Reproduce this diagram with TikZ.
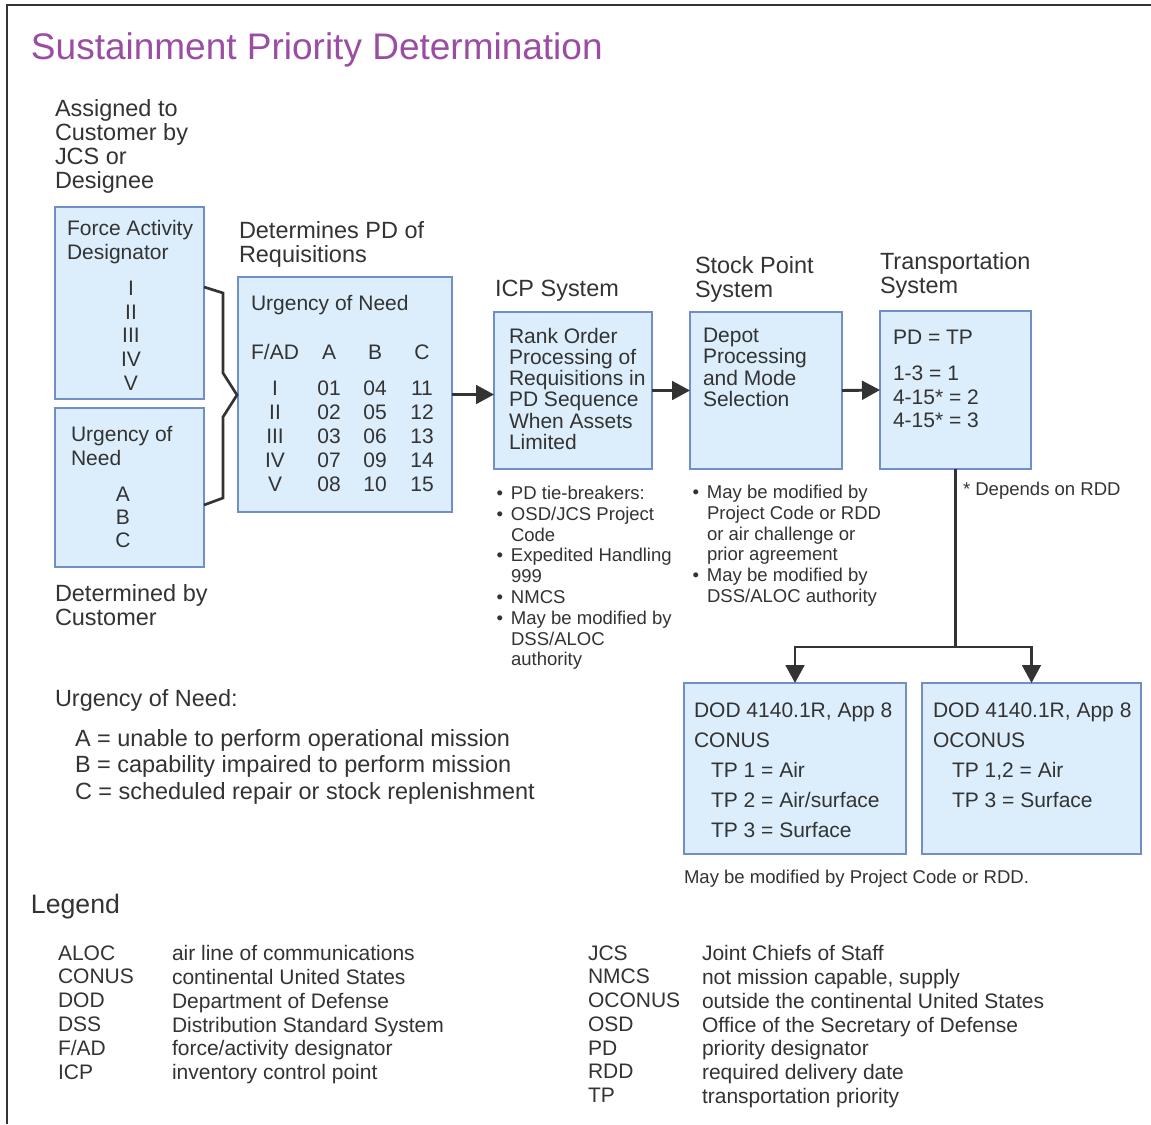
\documentclass[tikz,border=0pt]{standalone}
\usepackage{fontspec}
\setmainfont{Liberation Sans}
\usetikzlibrary{arrows.meta,fit}
\definecolor{ink}{RGB}{51,51,51}
\definecolor{boxfill}{RGB}{220,238,251}
\definecolor{boxline}{RGB}{112,142,200}
\definecolor{titlecol}{RGB}{155,77,163}
\newcommand{\itembul}{\llap{\textbullet\hspace{6pt}}}

\begin{document}
\begin{tikzpicture}[x=0.75pt,y=0.75pt,yscale=-1,
  every node/.style={inner sep=0pt,outer sep=0pt,text=ink},
  blockbox/.style={draw=boxline,fill=boxfill,line width=1pt},
  head/.style={anchor=north west,align=left,font=\fontsize{17.6}{18}\selectfont},
  boxtext/.style={anchor=north west,align=left,font=\fontsize{15.75}{18}\selectfont},
  cell/.style={anchor=base,font=\fontsize{15.75}{18}\selectfont},
  small/.style={anchor=north west,align=left,font=\fontsize{13.9}{15.6}\selectfont},
  legtext/.style={anchor=north west,font=\fontsize{15.75}{17.8}\selectfont},
  conn/.style={draw=ink,line width=2.2pt},
  arr/.style={conn,-{Triangle[length=13.5pt,width=14pt]}}]
%set page to 1151 x 1124
\path[fill=white] (0,0) rectangle (1151,1124);
\useasboundingbox (0,0) rectangle (1151,1124);

%Frame
\draw[ink,line width=2.2pt] (7,1124) -- (7,5) -- (1151,5);

% Text Node
\node[anchor=north west,text=titlecol,font=\fontsize{27.75}{30}\selectfont] (title) at (31,33) {Sustainment Priority Determination};

%Shape: Rectangle
\node[blockbox,fit={(55,207) (204,399)}] (fad) {};
\node[blockbox,fit={(55,408) (204,567)}] (urg) {};
\node[blockbox,fit={(238,277) (452,512)}] (tab) {};
\node[blockbox,fit={(494,312) (652,469)}] (icp) {};
\node[blockbox,fit={(690,312) (842,469)}] (stock) {};
\node[blockbox,fit={(880,311) (1031,469)}] (trans) {};
\node[blockbox,fit={(684,683) (906,854)}] (conus) {};
\node[blockbox,fit={(922,683) (1141,854)}] (oconus) {};

% Text Node
\node[head] (assigned) at (55,99) {Assigned to\\Customer by\\JCS or\\Designee};
\node[boxtext] (fadtxt) at (67,220) {Force Activity\\Designator};
\node[boxtext,anchor=north,align=center,font=\fontsize{15.75}{17.8}\selectfont] (fadnum) at (131,281) {I\\II\\III\\IV\\V};
\node[boxtext] (urgtxt) at (71,426) {Urgency of\\Need};
\node[boxtext,anchor=north,align=center,font=\fontsize{15.75}{17.4}\selectfont] (urgabc) at (123,487) {A\\B\\C};
\node[head] (determines) at (239,221) {Determines PD of\\Requisitions};
\node[boxtext] (tabtitle) at (251,295) {Urgency of Need};

%Table
\node[cell] (h0) at (275,359) {F/AD};
\node[cell] (h1) at (329,359) {A};
\node[cell] (h2) at (375,359) {B};
\node[cell] (h3) at (422,359) {C};
\foreach \fa/\ca/\cb/\cc [count=\i from 0] in {I/01/04/11,II/02/05/12,III/03/06/13,IV/07/09/14,V/08/10/15}{
  \node[cell] (r\i-0) at (275,{395.7+24*\i}) {\fa};
  \node[cell] (r\i-1) at (329,{395.7+24*\i}) {\ca};
  \node[cell] (r\i-2) at (375,{395.7+24*\i}) {\cb};
  \node[cell] (r\i-3) at (422,{395.7+24*\i}) {\cc};
}

% Text Node
\node[head] (icphead) at (495,280) {ICP System};
\node[head] (stockhead) at (695,256) {Stock Point\\System};
\node[head] (transhead) at (880,252) {Transportation\\System};
\node[boxtext,font=\fontsize{15.75}{15.9}\selectfont] (icptxt) at (509,328) {Rank Order\\Processing of\\Requisitions in\\PD Sequence\\When Assets\\Limited};
\node[boxtext,font=\fontsize{15.75}{16}\selectfont] (stocktxt) at (703,328) {Depot\\Processing\\and Mode\\Selection};
\node[boxtext] (transtp) at (893,330) {PD = TP};
\node[boxtext,font=\fontsize{15.75}{17.5}\selectfont] (transtxt) at (893,366) {1-3 = 1\\4-15* = 2\\4-15* = 3};
\node[small] (depends) at (963,482) {* Depends on RDD};
\node[small] (icpnotes) at (511,486) {\itembul PD tie-breakers:\\\itembul OSD/JCS Project\\Code\\\itembul Expedited Handling\\999\\\itembul NMCS\\\itembul May be modified by\\DSS/ALOC\\authority};
\node[small] (stocknotes) at (707,485) {\itembul May be modified by\\Project Code or RDD\\or air challenge or\\prior agreement\\\itembul May be modified by\\DSS/ALOC authority};
\node[boxtext,font=\fontsize{15.75}{22.5}\selectfont] (conustxt) at (694,703) {DOD 4140.1R, App 8\\CONUS};
\node[boxtext,font=\fontsize{15.75}{22.5}\selectfont] (conustp) at (711,762) {TP 1 = Air\\TP 2 = Air/surface\\TP 3 = Surface};
\node[boxtext,font=\fontsize{15.75}{22.5}\selectfont] (oconustxt) at (933,703) {DOD 4140.1R, App 8\\OCONUS};
\node[boxtext,font=\fontsize{15.75}{22.5}\selectfont] (oconustp) at (952,762) {TP 1,2 = Air\\TP 3 = Surface};
\node[small] (maymod) at (684,870) {May be modified by Project Code or RDD.};
\node[head] (determined) at (55,584) {Determined by\\Customer};
\node[head] (urgneed) at (55,689) {Urgency of Need:};
\node[head,font=\fontsize{17.6}{20}\selectfont] (abclist) at (75,729) {A = unable to perform operational mission\\B = capability impaired to perform mission\\C = scheduled repair or stock replenishment};

%Brace
\draw[conn,line width=2pt] (204,287) -- (223,293) -- (223,373) -- (237,395) -- (223,417) -- (223,498) -- (204,505);

%Arrows
\draw[arr] (tab.east) -- (tab.east -| icp.west);
\draw[arr] (icp.east) -- (stock.west);
\draw[arr] (stock.east) -- (trans.west);
\coordinate (split) at (955.5,647);
\draw[conn] (trans.south) -- (split);
\draw[arr] (split) -| (conus.north);
\draw[arr] (split) -| (oconus.north);

%Legend
\node[anchor=north west,font=\fontsize{20}{22}\selectfont] (legend) at (31,894) {Legend};
\foreach \ab/\df [count=\i from 0] in {ALOC/air line of communications,CONUS/continental United States,DOD/Department of Defense,DSS/Distribution Standard System,F\slash AD/force\slash activity designator,ICP/inventory control point}{
  \node[legtext] (la\i) at (58,{945.5+23.8*\i}) {\ab};
  \node[legtext] (ld\i) at (172,{945.5+23.8*\i}) {\df};
}
\foreach \ab/\df [count=\i from 0] in {JCS/Joint Chiefs of Staff,NMCS/{not mission capable, supply},OCONUS/outside the continental United States,OSD/Office of the Secretary of Defense,PD/priority designator,RDD/required delivery date,TP/transportation priority}{
  \node[legtext] (ra\i) at (588,{945.5+23.8*\i}) {\ab};
  \node[legtext] (rd\i) at (702,{945.5+23.8*\i}) {\df};
}
\end{tikzpicture}
\end{document}
